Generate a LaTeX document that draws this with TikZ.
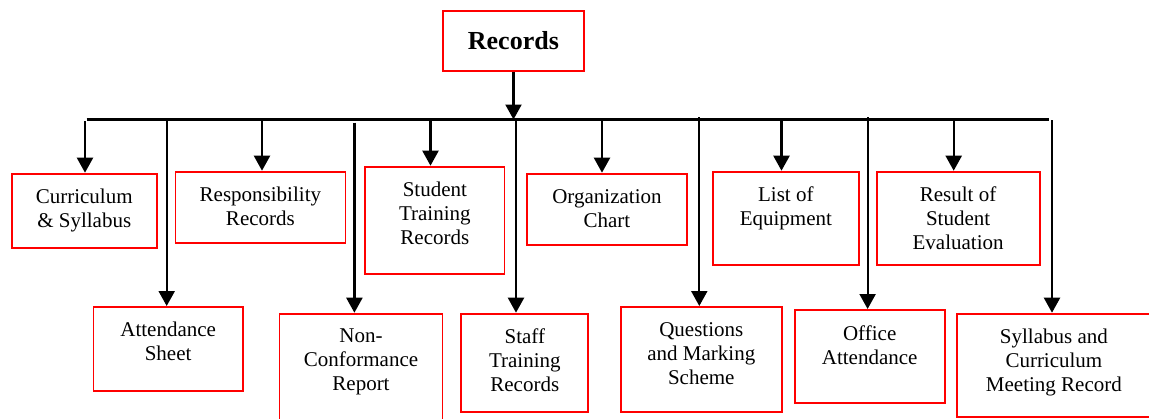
\documentclass[tikz,border=0pt]{standalone}
\usepackage{fontspec}
\setmainfont{Liberation Serif}
\usetikzlibrary{arrows.meta}
\newcommand{\bxtext}[3]{\parbox[c][#2pt][t]{#1pt}{\centering\vspace*{15.5pt}#3\par}}
\begin{document}
\begin{tikzpicture}[x=1pt,y=-1pt,
  box/.style={draw=red, line width=1.8pt, inner sep=0pt, anchor=north west, font=\rmfamily\fontsize{21}{24}\selectfont},
  conn/.style={line width=2.2pt, draw=black},
  arr/.style={conn, -{Triangle[width=16pt,length=15pt]}}]
\clip (0,0) rectangle (1149,418);
\useasboundingbox (0,0) rectangle (1149,418);
% top node
\node[draw=red, line width=1.8pt, minimum width=141pt, minimum height=60pt, inner sep=0pt,
      anchor=north west, font=\rmfamily\bfseries\fontsize{26}{30}\selectfont] (rec) at (442,10) {Records};
% boxes
\node[box] (cur) at (10.7,172.7) {\bxtext{145.3}{74}{Curriculum\\ \& Syllabus}};
\node[box] (att) at (92.6,306) {\bxtext{149.3}{84}{Attendance\\ Sheet}};
\node[box] (res) at (174.5,170.7) {\bxtext{170}{71.6}{Responsibility\\ Records}};
\node[box] (non) at (278.6,312.7) {\bxtext{163}{120}{Non-\\ Conformance\\ Report}};
\node[box] (stu) at (364.3,165.7) {\bxtext{139.3}{107.6}{Student\\ Training\\ Records}};
\node[box] (sta) at (460.4,312.7) {\bxtext{127}{98.3}{Staff\\ Training\\ Records}};
\node[box] (org) at (526.2,172.7) {\bxtext{159.7}{71.6}{Organization\\ Chart}};
\node[box] (que) at (620,306) {\bxtext{160.8}{105.3}{Questions\\ and Marking\\ Scheme}};
\node[box] (lst) at (711.9,170.7) {\bxtext{146.1}{93.6}{List of\\ Equipment}};
\node[box] (off) at (793.8,309) {\bxtext{150}{93.3}{Office\\ Attendance}};
\node[box] (rsl) at (875.7,170.7) {\bxtext{163}{93.6}{Result of\\ Student\\ Evaluation}};
\node[box] (syl) at (955.7,312.7) {\bxtext{194.6}{103.3}{Syllabus and\\ Curriculum\\ Meeting Record}};
% bus
\coordinate (bl) at (86.7,119.5);
\coordinate (br) at (1049,119.5);
\coordinate (rj) at (513.5,119.5);
\draw[conn] (bl) -- (br);
\draw[arr] (rec.south -| rj) -- (rj);
% short arrows
\coordinate (a1) at (85,121);
\coordinate (a2) at (262,121);
\coordinate (a3) at (430.5,121);
\coordinate (a4) at (602,121);
\coordinate (a5) at (781.5,121);
\coordinate (a6) at (953.7,121);
\draw[arr] (a1) -- (a1 |- cur.north);
\draw[arr] (a2) -- (a2 |- res.north);
\draw[arr] (a3) -- (a3 |- stu.north);
\draw[arr] (a4) -- (a4 |- org.north);
\draw[arr] (a5) -- (a5 |- lst.north);
\draw[arr] (a6) -- (a6 |- rsl.north);
% long arrows
\coordinate (l1) at (166.7,119.5);
\coordinate (l2) at (354.4,122.5);
\coordinate (l3) at (516,119.5);
\coordinate (l4) at (699.3,117);
\coordinate (l5) at (867.6,117);
\coordinate (l6) at (1052,120);
\draw[arr] (l1) -- (l1 |- att.north);
\draw[arr] (l2) -- (l2 |- non.north);
\draw[arr] (l3) -- (l3 |- sta.north);
\draw[arr] (l4) -- (l4 |- que.north);
\draw[arr] (l5) -- (l5 |- off.north);
\draw[arr] (l6) -- (l6 |- syl.north);
\end{tikzpicture}
\end{document}
